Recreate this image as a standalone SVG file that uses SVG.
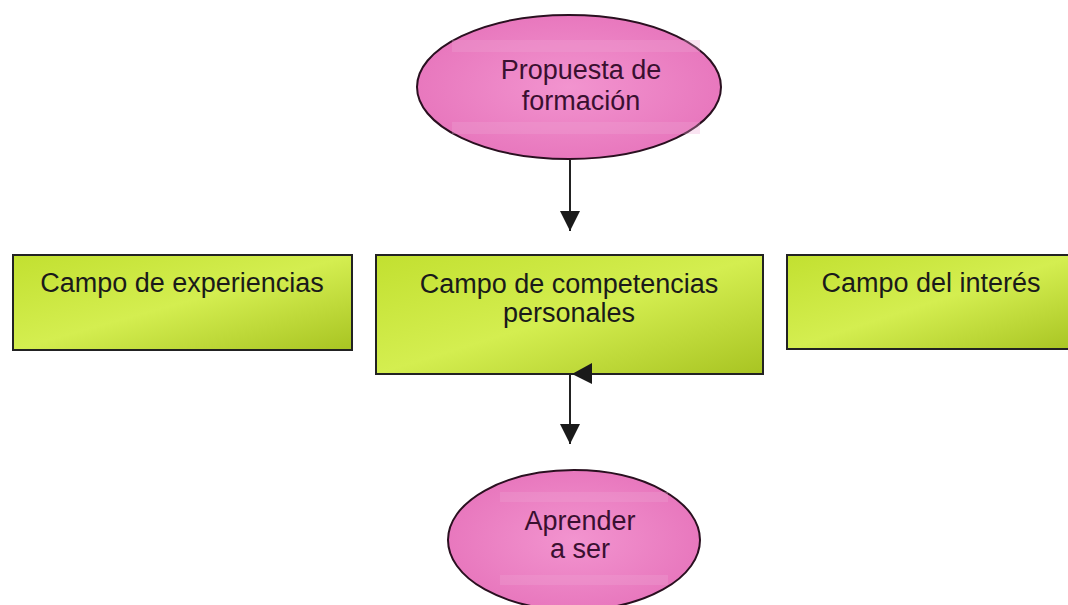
<svg xmlns="http://www.w3.org/2000/svg" width="1068" height="605" viewBox="0 0 1068 605">
<defs>
<linearGradient id="green" x1="0" y1="0" x2="1" y2="1">
<stop offset="0" stop-color="#c2e030"/>
<stop offset="0.5" stop-color="#d4ee50"/>
<stop offset="1" stop-color="#a8c422"/>
</linearGradient>
<radialGradient id="pink" cx="0.5" cy="0.5" r="0.6">
<stop offset="0" stop-color="#f294cf"/>
<stop offset="1" stop-color="#e672ba"/>
</radialGradient>
<marker id="arr" viewBox="0 0 10 10" refX="10" refY="5" markerWidth="20" markerHeight="20" markerUnits="userSpaceOnUse" orient="auto">
<path d="M0,0 L10,5 L0,10 Z" fill="#1a1a1a"/>
</marker>
<style>
.ell{fill:url(#pink);stroke:#2a1020;stroke-width:2}
.box{fill:url(#green);stroke:#222;stroke-width:2}
.band{fill:#f0a4d4;opacity:0.3}
.t{font-family:"Liberation Sans",Arial,sans-serif;font-size:27px;text-anchor:middle;fill:#1a1a1a}
.tp{fill:#3a1030}
.con{stroke:#222;stroke-width:2;fill:none}
</style>
</defs>
<g id="n1">
<ellipse class="ell" cx="569" cy="87" rx="152" ry="72"/>
<rect class="band" x="452" y="40" width="248" height="12"/>
<rect class="band" x="452" y="122" width="248" height="12"/>
<text class="t tp" x="581" y="79">Propuesta de</text>
<text class="t tp" x="581" y="110">formación</text>
</g>
<g id="n2">
<rect class="box" x="13" y="255" width="339" height="95"/>
<text class="t" x="182" y="292">Campo de experiencias</text>
</g>
<g id="n3">
<rect class="box" x="376" y="255" width="387" height="119"/>
<text class="t" x="569" y="293">Campo de competencias</text>
<text class="t" x="569" y="322">personales</text>
</g>
<g id="n4">
<rect class="box" x="787" y="255" width="290" height="94"/>
<text class="t" x="931" y="292">Campo del interés</text>
</g>
<g id="n5">
<ellipse class="ell" cx="574" cy="540" rx="126" ry="70"/>
<rect class="band" x="500" y="492" width="168" height="10"/>
<rect class="band" x="500" y="575" width="168" height="10"/>
<text class="t tp" x="580" y="530">Aprender</text>
<text class="t tp" x="580" y="558">a ser</text>
</g>
<g id="connectors">
<line class="con" x1="570" y1="160" x2="570" y2="231" marker-end="url(#arr)"/>
<line class="con" x1="570" y1="375" x2="570" y2="444" marker-end="url(#arr)"/>
<path d="M572,374 L592,363 L592,384 Z" fill="#1a1a1a"/>
</g>
</svg>
